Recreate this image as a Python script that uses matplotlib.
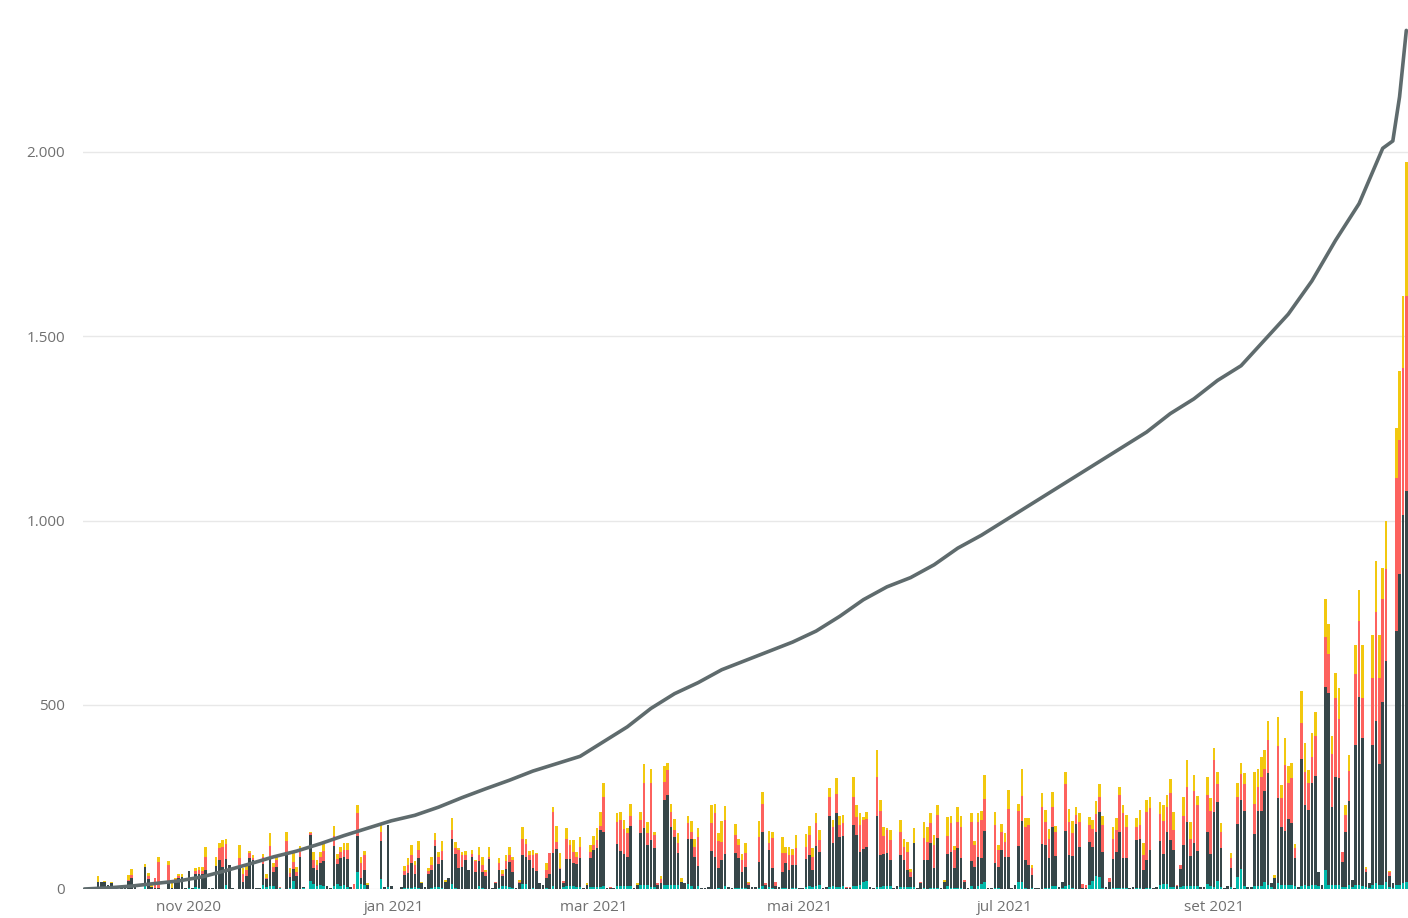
import matplotlib
matplotlib.use("Agg")
import matplotlib.pyplot as plt
import matplotlib.dates as mdates
from matplotlib.ticker import FuncFormatter, FixedLocator
import pandas as pd
import numpy as np

# ---------------- data (daily, 2020-10-01 .. 2021-10-28) ----------------
start_date = "2020-10-01"

teal = [
    0,0,0,0,0,0,0,  0,0,0,0,0,0,0,  0,0,0,0,15,0,0,  0,0,0,0,0,0,0,
    0,0,0,2,0,5,3,  0,0,0,0,0,0,0,  12,0,0,0,0,0,0,  0,0,0,0,12,5,9,
    7,0,2,0,0,2,22,  0,0,2,0,22,14,7,  10,7,0,0,8,13,8,  11,5,0,0,45,13,12,
    0,0,0,0,27,0,5,  0,0,0,0,3,3,2,  5,3,0,0,0,2,5,  6,4,0,0,14,2,0,
    0,0,0,1,0,9,2,  0,0,0,0,2,9,9,  6,2,0,0,14,14,1,  2,0,0,0,2,0,9,
    0,0,5,9,9,8,6,  6,0,0,6,5,6,6,  7,0,0,0,9,9,9,  9,9,0,0,11,11,11,
    6,6,0,0,10,11,10,  11,11,0,0,14,7,1,  9,0,0,0,0,0,3,  1,9,0,0,2,2,2,
    2,0,0,0,2,9,0,  6,3,0,0,2,2,1,  3,2,0,0,5,7,6,  8,11,0,0,6,7,6,
    6,7,0,0,7,8,11,  18,23,0,0,6,6,8,  7,7,0,0,6,6,6,  6,6,0,0,2,1,2,
    3,2,0,0,9,2,2,  2,2,0,0,9,1,9,  14,18,0,0,2,2,1,  1,1,0,0,18,18,2,
    1,2,0,0,1,2,2,  9,9,0,2,9,12,2,  1,1,0,0,10,23,36,  32,2,0,0,2,2,2,
    2,2,0,0,2,2,1,  2,2,0,0,12,14,14,  6,6,0,5,9,9,9,  9,9,0,0,14,9,6,
    23,6,0,0,6,0,32,  54,9,0,0,9,9,9,  18,10,5,0,15,11,11,  11,11,8,0,8,11,8,
    11,11,7,0,52,10,10,  11,11,6,5,10,5,10,  10,9,5,3,12,15,10,  12,19,5,3,10,10,15,
    20,
]

dark = [
    4,4,1,1,20,18,18,  10,16,1,1,3,8,22,  30,6,1,1,45,28,5,  4,4,1,1,22,3,22,
    30,32,2,48,2,35,38,  40,52,2,2,62,79,60,  70,65,2,1,57,20,34,  83,80,4,2,55,22,77,
    40,60,2,1,100,30,32,  35,87,4,1,125,43,45,  60,68,8,2,108,55,75,  77,77,6,0,100,18,40,
    10,0,0,0,104,6,170,  8,0,0,5,36,40,68,  35,80,15,6,40,50,113,  63,76,20,29,122,94,57,
    59,78,52,86,45,68,45,  35,81,3,15,50,27,45,  68,45,4,15,77,72,77,  54,50,15,10,27,41,90,
    108,54,10,72,72,63,63,  77,3,10,77,100,104,154,  149,3,3,3,113,95,86,  77,163,3,10,140,154,108,
    127,105,10,15,231,244,158,  131,86,20,15,122,130,86,  54,3,3,5,104,86,54,  77,86,6,3,95,81,45,
    59,10,6,6,72,147,10,  100,54,8,6,45,68,50,  63,63,3,3,77,86,45,  110,90,3,5,192,119,199,
    136,137,2,2,167,138,90,  90,90,6,3,192,86,86,  90,72,3,8,86,72,45,  27,118,3,15,77,77,122,
    54,136,2,20,86,99,54,  109,81,20,3,68,59,77,  70,140,4,3,68,59,104,  86,86,3,11,100,167,77,
    63,36,3,4,122,117,81,  158,81,6,18,149,79,88,  175,113,3,3,118,90,118,  177,99,6,20,79,99,154,
    81,81,3,6,131,135,50,  77,104,3,6,119,81,140,  127,100,8,50,111,172,81,  115,95,6,6,140,86,203,
    213,104,3,8,50,3,145,  187,204,6,6,140,204,204,  249,305,10,30,232,158,146,  178,167,77,5,344,217,207,
    276,296,40,11,497,522,213,  294,290,68,150,230,20,380,  510,400,40,12,380,440,330,  495,600,30,12,690,845,1000,
    1060,
]

red = [
    0,0,0,0,0,0,0,  0,0,0,0,0,0,3,  8,0,0,0,0,8,0,  25,70,0,0,42,0,4,
    4,0,0,0,0,8,10,  10,35,0,0,0,33,55,  40,0,0,0,27,22,18,  14,5,0,0,20,2,32,
    14,20,2,0,29,12,18,  12,14,0,0,5,22,13,  18,27,0,0,27,14,18,  18,23,0,13,60,39,40,
    0,0,0,0,23,0,0,  0,0,0,0,9,23,23,  25,23,0,0,10,14,14,  18,23,0,0,23,14,48,
    32,14,0,9,30,14,18,  12,7,0,5,18,6,23,  18,32,0,5,45,36,14,  36,45,0,0,23,56,110,
    19,2,8,54,38,30,18,  32,0,0,18,14,23,10,  95,0,2,0,61,83,69,  65,25,0,0,36,122,32,
    154,36,6,12,50,68,41,  18,27,0,0,42,18,27,  79,0,0,0,74,119,72,  50,92,0,0,50,36,32,
    36,5,0,0,68,76,7,  18,81,12,0,50,27,41,  27,45,0,0,33,54,36,  61,32,0,0,52,41,54,
    32,34,4,4,77,50,72,  79,78,0,0,107,120,50,  62,54,0,0,63,36,50,  14,0,0,5,59,50,54,
    63,63,0,0,50,77,50,  72,86,4,0,104,59,95,  103,86,0,0,104,45,50,  41,131,0,0,95,68,90,
    109,18,0,0,100,63,54,  55,66,0,0,127,90,61,  24,68,10,8,45,50,50,  41,72,0,9,54,59,99,
    122,86,0,0,36,36,41,  131,113,0,0,72,90,68,  127,54,3,10,78,95,47,  143,123,0,0,100,118,140,
    50,45,0,0,27,0,73,  72,71,0,0,82,63,91,  59,89,0,0,140,77,180,  98,122,27,0,98,90,72,
    72,107,0,0,136,107,143,  212,160,27,45,80,0,194,  207,110,10,0,181,298,233,  279,250,10,0,415,363,400,
    530,
]

yellow = [
    0,0,0,0,15,2,5,  0,4,0,0,0,0,12,  15,0,0,0,8,8,5,  0,14,0,0,12,12,4,
    6,10,0,0,0,8,8,  10,28,0,0,26,12,18,  15,0,0,0,36,14,11,  7,6,0,0,8,12,34,
    9,8,0,0,27,12,26,  12,15,0,0,4,22,13,  13,22,0,0,27,13,14,  18,21,0,0,23,18,10,
    5,0,0,0,21,0,0,  0,0,0,0,15,18,27,  10,23,5,0,6,20,21,  14,27,5,0,33,18,5,
    10,12,0,11,3,22,21,  5,25,0,0,15,10,15,  21,9,0,4,33,15,12,  15,2,0,0,18,2,14,
    43,43,0,30,14,32,14,  25,0,6,18,25,32,40,  36,0,0,0,24,23,23,  14,34,0,7,23,52,32,
    38,8,0,8,43,18,23,  29,29,9,0,20,29,23,  23,0,0,0,50,27,24,  57,38,0,0,29,18,15,
    29,5,0,0,43,32,0,  34,18,0,0,43,18,23,  15,36,0,0,34,24,23,  27,27,0,0,23,20,41,
    24,23,0,0,54,32,34,  9,18,0,0,72,29,25,  6,27,0,0,32,23,27,  6,41,0,0,45,41,27,
    27,27,0,4,51,20,11,  39,29,0,0,24,12,24,  26,66,0,0,36,14,21,  23,50,0,0,19,74,25,
    21,9,0,0,38,32,27,  42,14,0,0,33,35,34,  23,23,0,0,23,24,36,  35,25,0,0,34,34,23,
    23,32,0,0,25,41,34,  32,30,0,0,34,43,33,  38,50,0,0,53,74,46,  42,25,0,0,49,35,33,
    32,23,0,0,14,0,37,  28,30,0,0,87,51,53,  51,53,0,8,81,36,72,  47,41,9,0,86,79,36,
    65,65,0,0,101,80,49,  70,84,0,28,44,0,78,  84,143,5,0,117,136,117,  84,130,5,0,136,188,194,
    363,
]

line_dates = [
    "2020-10-01","2020-10-08","2020-10-15","2020-10-22","2020-10-29","2020-11-05",
    "2020-11-12","2020-11-19","2020-11-26","2020-12-03","2020-12-10","2020-12-17",
    "2020-12-24","2020-12-31","2021-01-07","2021-01-14","2021-01-21","2021-01-28",
    "2021-02-04","2021-02-11","2021-02-18","2021-02-25","2021-03-04","2021-03-11",
    "2021-03-18","2021-03-25","2021-04-01","2021-04-08","2021-04-15","2021-04-22",
    "2021-04-29","2021-05-06","2021-05-13","2021-05-20","2021-05-27","2021-06-03",
    "2021-06-10","2021-06-17","2021-06-24","2021-07-01","2021-07-08","2021-07-15",
    "2021-07-22","2021-07-29","2021-08-05","2021-08-12","2021-08-19","2021-08-26",
    "2021-09-02","2021-09-09","2021-09-16","2021-09-23","2021-09-30","2021-10-07",
    "2021-10-14","2021-10-21","2021-10-24","2021-10-26","2021-10-28",
]
line_values = [
    0, 3, 8, 15, 22, 33,
    50, 68, 87, 103, 123, 145,
    165, 185, 200, 222, 248, 272,
    295, 320, 340, 360, 400, 440,
    490, 530, 560, 595, 620, 645,
    670, 700, 740, 785, 820, 845,
    880, 925, 960, 1000, 1040, 1080,
    1120, 1160, 1200, 1240, 1290, 1330,
    1380, 1420, 1490, 1560, 1650, 1760,
    1860, 2010, 2030, 2150, 2330,
]

month_ticks = ["2020-11-01", "2021-01-01", "2021-03-01", "2021-05-01", "2021-07-01", "2021-09-01"]
month_labels = ["nov 2020", "jan 2021", "mar 2021", "mai 2021", "jul 2021", "set 2021"]
y_ticks = [0, 500, 1000, 1500, 2000]

# ---------------- plotting ----------------
n = len(dark)
assert len(teal) == n and len(red) == n and len(yellow) == n
dates = pd.date_range(start_date, periods=n, freq="D")
x = mdates.date2num(dates.to_pydatetime())

C_TEAL = "#01B8AA"
C_DARK = "#374649"
C_RED = "#FD625E"
C_YELLOW = "#F2C80F"
C_LINE = "#5F6B6D"

fig = plt.figure(figsize=(14.08, 9.18), dpi=100)
ax = fig.add_axes([83 / 1408, 29 / 918, 1 - 83 / 1408, (889 - 4.6) / 918])

t = np.array(teal, float)
d = np.array(dark, float)
r = np.array(red, float)
yv = np.array(yellow, float)
w = 0.78
ax.bar(x, t, width=w, color=C_TEAL, linewidth=0, zorder=2)
ax.bar(x, d, width=w, bottom=t, color=C_DARK, linewidth=0, zorder=2)
ax.bar(x, r, width=w, bottom=t + d, color=C_RED, linewidth=0, zorder=2)
ax.bar(x, yv, width=w, bottom=t + d + r, color=C_YELLOW, linewidth=0, zorder=2)

lx = mdates.date2num(pd.to_datetime(line_dates).to_pydatetime())
ax.plot(lx, line_values, color=C_LINE, linewidth=2.6, zorder=3,
        solid_joinstyle="round", solid_capstyle="round")

ax.set_xlim(x[0] - 0.4, x[-1] + 0.5)
ax.set_ylim(0, 2400)

for s in ax.spines.values():
    s.set_visible(False)

ax.yaxis.set_major_locator(FixedLocator(y_ticks))
ax.yaxis.set_major_formatter(FuncFormatter(lambda v, p: f"{int(v):,}".replace(",", ".")))
ax.grid(axis="y", color="#E8E8E8", linewidth=1.0, zorder=0)
ax.set_axisbelow(True)

tx = mdates.date2num(pd.to_datetime(month_ticks).to_pydatetime())
ax.set_xticks(tx)
ax.set_xticklabels(month_labels)

ax.tick_params(axis="both", length=0, labelsize=11, labelcolor="#707070")
ax.tick_params(axis="y", pad=13)
ax.tick_params(axis="x", pad=8)
for lab in ax.get_xticklabels() + ax.get_yticklabels():
    lab.set_fontfamily(["Open Sans", "DejaVu Sans"])

fig.savefig("out.png", dpi=100, facecolor="white")
